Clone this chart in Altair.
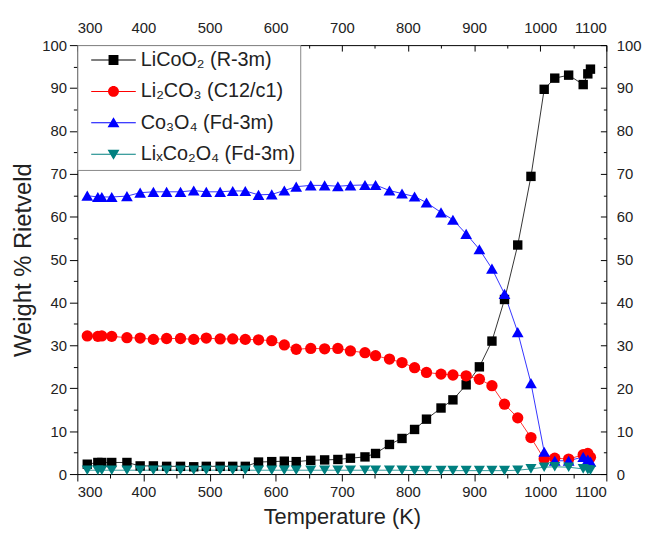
import altair as alt
import pandas as pd

# ---- data ----
temperature = [315, 331, 337, 352, 375, 395, 415, 435, 456, 476,
               495, 516, 535, 554, 574, 594, 613, 631, 653, 674,
               694, 713, 735, 751, 772, 791, 810, 828, 850, 868,
               888, 908, 927, 946, 966, 986, 1006, 1022, 1043, 1065,
               1072, 1076]

licoo2 = [2.3, 2.7, 2.7, 2.7, 2.7, 1.9, 1.9, 1.8, 1.8, 1.7,
          1.8, 1.8, 1.8, 1.8, 2.8, 2.9, 3.0, 2.9, 3.2, 3.3,
          3.4, 3.7, 4.0, 4.8, 6.9, 8.3, 10.4, 12.8, 15.4, 17.3,
          20.8, 25.0, 31.0, 40.7, 53.4, 69.4, 89.7, 92.3, 93.0, 90.8,
          93.3, 94.4]

li2co3 = [32.2, 32.1, 32.2, 32.1, 31.8, 31.7, 31.4, 31.6, 31.6, 31.4,
          31.7, 31.5, 31.5, 31.4, 31.3, 31.1, 30.1, 29.1, 29.3, 29.2,
          29.3, 28.7, 28.3, 27.6, 26.8, 26.0, 24.8, 23.7, 23.3, 23.1,
          22.9, 22.1, 20.6, 16.3, 13.1, 8.5, 3.5, 3.7, 3.5, 4.5,
          4.8, 3.9]

co3o4 = [64.9, 64.6, 64.6, 64.6, 64.8, 65.6, 65.8, 65.8, 65.8, 66.1,
         65.8, 65.8, 66.0, 66.0, 65.1, 65.2, 66.1, 67.0, 67.3, 67.3,
         67.1, 67.3, 67.4, 67.4, 66.1, 65.4, 64.7, 63.3, 61.0, 59.3,
         56.0, 52.4, 47.9, 42.0, 33.1, 21.2, 5.2, 3.1, 3.1, 4.0,
         3.4, 2.9]

lixco2o4 = [0.9, 0.9, 0.9, 0.9, 0.9, 0.9, 0.9, 0.9, 0.9, 0.9,
            0.9, 0.9, 0.9, 0.9, 0.9, 0.9, 0.9, 0.9, 0.9, 0.9,
            0.9, 0.9, 0.9, 0.9, 0.9, 0.9, 0.8, 0.8, 0.8, 0.8,
            0.8, 0.8, 0.8, 0.8, 0.9, 1.2, 1.6, 1.7, 1.6, 1.2,
            1.0, 0.9]

series_names = ["LiCoO₂ (R-3m)", "Li₂CO₃ (C12/c1)", "Co₃O₄ (Fd-3m)", "LiₓCo₂O₄ (Fd-3m)"]
series_values = [licoo2, li2co3, co3o4, lixco2o4]

x_ticks = [300, 400, 500, 600, 700, 800, 900, 1000, 1100]
x_minor = [350, 450, 550, 650, 750, 850, 950, 1050]
y_ticks = [0, 10, 20, 30, 40, 50, 60, 70, 80, 90, 100]
y_minor = [5, 15, 25, 35, 45, 55, 65, 75, 85, 95]

# ---- styles ----
series_colors = ["#000000", "#ff0000", "#0000ff", "#008080"]
series_shapes = ["square", "circle", "triangle-up", "triangle-down"]
series_sizes = {series_names[0]: 90, series_names[1]: 130,
                series_names[2]: 140, series_names[3]: 125}
legend_paths = [
    "M-2.25,-0.05H2.25V0.05H-2.25Z M-0.5,-0.5H0.5V0.5H-0.5Z",
    "M-2.25,-0.05H2.25V0.05H-2.25Z M-0.55,0A0.55,0.55 0 1,1 0.55,0A0.55,0.55 0 1,1 -0.55,0Z",
    "M-2.25,-0.05H2.25V0.05H-2.25Z M0,-0.55L0.6,0.45L-0.6,0.45Z",
    "M-2.25,-0.05H2.25V0.05H-2.25Z M0,0.55L-0.6,-0.45L0.6,-0.45Z",
]
FONT = "Liberation Sans"

rows = []
for name, vals in zip(series_names, series_values):
    for t, v in zip(temperature, vals):
        rows.append({"T": t, "wt": v, "series": name, "msize": series_sizes[name]})
df = pd.DataFrame(rows)

xscale = alt.Scale(domain=[300, 1100], nice=False, zero=False)
yscale = alt.Scale(domain=[0, 100], nice=False, zero=False)
cscale = alt.Scale(domain=series_names, range=series_colors)


def ax(orient, values, labels=True, tick=7, offset=0, pad=3, title=None, tpad=None, tsize=20):
    kw = dict(orient=orient, values=values, labels=labels, tickSize=tick,
              offset=offset, labelPadding=pad, domain=False, grid=False,
              ticks=True, tickColor="black", tickWidth=1, labelColor="#222222",
              labelFont=FONT, labelFontSize=15, labelOverlap=False, format="d")
    if title is not None:
        kw.update(title=title, titleFont=FONT, titleFontSize=tsize,
                  titleFontWeight="normal", titleColor="#222222")
        if tpad is not None:
            kw["titlePadding"] = tpad
    else:
        kw["title"] = None
    return alt.Axis(**kw)


lines = alt.Chart(df).mark_line(strokeWidth=1, opacity=0.8).encode(
    x=alt.X("T:Q", scale=xscale, axis=ax("bottom", x_ticks, tick=7, pad=4,
                                         title="Temperature (K)", tpad=7, tsize=22)),
    y=alt.Y("wt:Q", scale=yscale, axis=ax("left", y_ticks, tick=8, pad=3,
                                          title="Weight % Rietveld", tpad=6, tsize=24)),
    color=alt.Color("series:N", scale=cscale, legend=None),
    detail="series:N",
)

points = alt.Chart(df).mark_point(filled=True, opacity=1).encode(
    x=alt.X("T:Q", scale=xscale, axis=ax("top", x_ticks, tick=6, offset=-6, pad=10)),
    y=alt.Y("wt:Q", scale=yscale, axis=ax("right", y_ticks, tick=6, offset=-6, pad=10)),
    color=alt.Color("series:N", scale=cscale, legend=None),
    shape=alt.Shape("series:N", scale=alt.Scale(domain=series_names, range=series_shapes),
                    legend=None),
    size=alt.Size("msize:Q", scale=None, legend=None),
)

minor1 = alt.Chart(df).mark_point(opacity=0).encode(
    x=alt.X("T:Q", scale=xscale, axis=ax("bottom", x_minor, labels=False, tick=4)),
    y=alt.Y("wt:Q", scale=yscale, axis=ax("left", y_minor, labels=False, tick=4)),
)

minor2 = alt.Chart(df).mark_point(opacity=0).encode(
    x=alt.X("T:Q", scale=xscale, axis=ax("top", x_minor, labels=False, tick=3, offset=-3)),
    y=alt.Y("wt:Q", scale=yscale, axis=ax("right", y_minor, labels=False, tick=3, offset=-3)),
)

legend_def = alt.Legend(
    title=None, orient="top-left", offset=0, padding=5, rowPadding=11.7,
    symbolSize=400, symbolOffset=21.5, labelOffset=17.5,
    labelFont=FONT, labelFontSize=20, labelColor="#222222",
    strokeColor="#888888", fillColor="white", symbolStrokeWidth=0,
)

legend_layer = alt.Chart(df).transform_filter("false").mark_point(
    filled=True, opacity=1, size=400).encode(
    color=alt.Color("series:N", scale=cscale, legend=legend_def),
    shape=alt.Shape("series:N", scale=alt.Scale(domain=series_names, range=legend_paths),
                    legend=legend_def),
)

chart = alt.layer(lines, points, minor1, minor2, legend_layer).resolve_scale(
    color="independent", shape="independent"
).resolve_axis(
    x="independent", y="independent"
).properties(
    width=534, height=433,
    padding={"left": 70, "top": 35, "right": 36, "bottom": 55},
    autosize=alt.AutoSizeParams(type="none"),
    background="white",
).configure_view(stroke="black", strokeWidth=1)

chart.save("out.html", embed_options={"renderer": "svg", "actions": False})
